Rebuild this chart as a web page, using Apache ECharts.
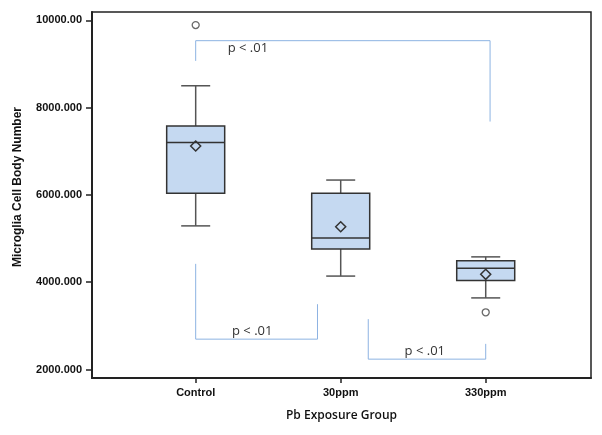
<!DOCTYPE html>
<html>
<head>
<meta charset="utf-8">
<script src="https://cdn.jsdelivr.net/npm/echarts@6/dist/echarts.min.js"></script>
<style>html,body{margin:0;padding:0;background:#fff}#c{width:602px;height:435px}</style>
</head>
<body>
<div id="c"></div>
<script>
const categories = ['Control', '30ppm', '330ppm'];
const whiskerLow = [5290, 4140, 3640];
const q1 = [6040, 4760, 4040];
const median = [7200, 5010, 4320];
const q3 = [7580, 6040, 4490];
const whiskerHigh = [8500, 6340, 4580];
const means = [7120, 5270, 4180];
const outliers = [[0, 9890], [2, 3310]];
const yTicks = [2000, 4000, 6000, 8000, 10000];
const yTickLabels = ['2000.000', '4000.000', '6000.000', '8000.000', '10000.00'];
const bracketTop = [[0, 9070], [0, 9533], [2.03, 9533], [2.03, 7680]];
const bracketLeft = [[0, 4420], [0, 2695], [0.84, 2695], [0.84, 3496]];
const bracketRight = [[1.19, 3153], [1.19, 2237], [2, 2237], [2, 2587]];
const pLabels = [[0.36, 9366, 'p < .01'], [0.39, 2866, 'p < .01'], [1.58, 2408, 'p < .01']];

const boxData = categories.map((c, i) => [i, whiskerLow[i], q1[i], median[i], q3[i], whiskerHigh[i], means[i]]);

const chart = echarts.init(document.getElementById('c'), null, {renderer: 'canvas'});
const lineColor = '#8db3e2';
const bracketSeries = [bracketTop, bracketLeft, bracketRight].map(b => ({
  type: 'line', data: b, symbol: 'none', silent: true,
  lineStyle: {color: lineColor, width: 1}, z: 1
}));

chart.setOption({
  animation: false,
  grid: {left: 92, right: 11, top: 12, bottom: 57, show: true, borderColor: '#222', borderWidth: 1.5},
  xAxis: {
    type: 'value', min: -0.715, max: 2.726,
    splitLine: {show: false},
    axisLine: {onZero: false, lineStyle: {color: '#222', width: 2}},
    axisTick: {show: true, length: 5, customValues: [0, 1, 2], lineStyle: {color: '#222', width: 1.5}},
    axisLabel: {customValues: [0, 1, 2], formatter: v => categories[Math.round(v)], color: '#111',
      fontFamily: 'Liberation Sans, Arial', fontWeight: 'bold', fontSize: 11, margin: 9},
    name: 'Pb Exposure Group', nameLocation: 'middle', nameGap: 32,
    nameTextStyle: {color: '#111', fontFamily: 'Open Sans, Liberation Sans', fontSize: 12, fontWeight: 600}
  },
  yAxis: {
    type: 'value', min: 1805, max: 10190,
    splitLine: {show: false},
    axisLine: {show: true, onZero: false, lineStyle: {color: '#222', width: 2}},
    axisTick: {show: true, length: 6, customValues: yTicks, lineStyle: {color: '#222', width: 1.5}},
    axisLabel: {customValues: yTicks, formatter: v => yTickLabels[yTicks.indexOf(v)], color: '#111',
      fontFamily: 'Liberation Sans, Arial', fontWeight: 'bold', fontSize: 11, margin: 10},
    name: 'Microglia Cell Body Number', nameLocation: 'middle', nameGap: 68, nameRotate: 90,
    nameTextStyle: {color: '#111', fontFamily: 'Liberation Sans, Arial', fontSize: 12, fontWeight: 'bold',
      padding: [0, 0, 0, 16]}
  },
  series: [
    ...bracketSeries,
    {
      type: 'custom', data: boxData, z: 3,
      encode: {x: 0, y: [1, 2, 3, 4, 5]},
      renderItem: (params, api) => {
        const x = api.value(0);
        const unit = api.size([1, 0])[0];
        const hw = unit * 0.2, cw = unit * 0.1;
        const pLow = api.coord([x, api.value(1)]);
        const pQ1 = api.coord([x, api.value(2)]);
        const pMed = api.coord([x, api.value(3)]);
        const pQ3 = api.coord([x, api.value(4)]);
        const pHigh = api.coord([x, api.value(5)]);
        const pMean = api.coord([x, api.value(6)]);
        const cx = pLow[0];
        const stroke = '#555';
        const dark = '#333';
        const ds = 5;
        return {type: 'group', children: [
          {type: 'line', shape: {x1: cx, y1: pHigh[1], x2: cx, y2: pQ3[1]}, style: {stroke: stroke, lineWidth: 1.5}},
          {type: 'line', shape: {x1: cx, y1: pQ1[1], x2: cx, y2: pLow[1]}, style: {stroke: stroke, lineWidth: 1.5}},
          {type: 'line', shape: {x1: cx - cw, y1: pHigh[1], x2: cx + cw, y2: pHigh[1]}, style: {stroke: stroke, lineWidth: 1.5}},
          {type: 'line', shape: {x1: cx - cw, y1: pLow[1], x2: cx + cw, y2: pLow[1]}, style: {stroke: stroke, lineWidth: 1.5}},
          {type: 'rect', shape: {x: cx - hw, y: pQ3[1], width: hw * 2, height: pQ1[1] - pQ3[1]},
            style: {fill: '#c5d9f1', stroke: dark, lineWidth: 1.5}},
          {type: 'line', shape: {x1: cx - hw, y1: pMed[1], x2: cx + hw, y2: pMed[1]}, style: {stroke: dark, lineWidth: 1.5}},
          {type: 'polygon', shape: {points: [[cx, pMean[1] - ds], [cx + ds, pMean[1]], [cx, pMean[1] + ds], [cx - ds, pMean[1]]]},
            style: {fill: 'none', stroke: dark, lineWidth: 1.5}}
        ]};
      }
    },
    {
      type: 'scatter', data: outliers, symbol: 'circle', symbolSize: 7, z: 4,
      itemStyle: {color: '#fff', borderColor: '#444', borderWidth: 1.3}
    },
    {
      type: 'custom', data: pLabels, z: 5,
      renderItem: (params, api) => {
        const p = api.coord([api.value(0), api.value(1)]);
        return {type: 'text', style: {x: p[0], y: p[1], text: pLabels[params.dataIndex][2], align: 'center', verticalAlign: 'middle',
          fill: '#333', font: '13px "Open Sans", "Liberation Sans", sans-serif'}};
      }
    }
  ]
});
</script>
</body>
</html>
